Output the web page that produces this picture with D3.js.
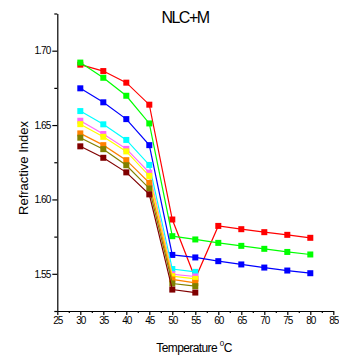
<!DOCTYPE html>
<html>
<head>
<meta charset="utf-8">
<script src="https://cdn.jsdelivr.net/npm/d3@7"></script>
<style>
  body { margin: 0; background: #fff; }
  text { font-family: "Liberation Sans", Arial, sans-serif; fill: #000; }
  .tick text { font-size: 10px; letter-spacing: -0.9px; }
</style>
</head>
<body>
<div id="chart"></div>
<script>
var temps = [30, 35, 40, 45, 50, 55, 60, 65, 70, 75, 80];

// refractive index per sample
var red     = [1.6906, 1.6863, 1.6785, 1.6637, 1.5865, 1.5468, 1.5822, 1.5800, 1.5780, 1.5762, 1.5742];
var green   = [1.6920, 1.6818, 1.6697, 1.6511, 1.5753, 1.5731, 1.5708, 1.5688, 1.5668, 1.5647, 1.5630];
var blue    = [1.6747, 1.6653, 1.6540, 1.6365, 1.5627, 1.5610, 1.5585, 1.5563, 1.5542, 1.5522, 1.5504];
var cyan    = [1.6594, 1.6505, 1.6400, 1.6232, 1.5532, 1.5513];
var magenta = [1.6529, 1.6440, 1.6340, 1.6180, 1.5497, 1.5482];
var yellow  = [1.6506, 1.6421, 1.6323, 1.6158, 1.5484, 1.5466];
var orange  = [1.6444, 1.6365, 1.6264, 1.6112, 1.5462, 1.5439];
var olive   = [1.6415, 1.6338, 1.6230, 1.6074, 1.5435, 1.5417];
var wine    = [1.6357, 1.6280, 1.6182, 1.6034, 1.5394, 1.5374];

var seriesValues = [red, green, blue, cyan, magenta, yellow, orange, olive, wine];
var seriesColors = ["#ff0000", "#00ff00", "#0000ff", "#00ffff", "#ff66ff", "#ffff00", "#ff8000", "#808000", "#800000"];

var xTicks = d3.range(25, 86, 5);
var yTicks = [1.55, 1.60, 1.65, 1.70];

var width = 339, height = 356;

var svg = d3.select("#chart").append("svg")
    .attr("width", width)
    .attr("height", height);

var x = d3.scaleLinear().domain([25, 85]).range([57.3, 333.3]);
var y = d3.scaleLinear().domain([1.525, 1.725]).range([311, 13.5]);

// minor ticks first
svg.append("g")
    .attr("transform", "translate(0,311)")
    .call(d3.axisBottom(x).tickValues(d3.range(27.5, 85, 5)).tickSize(2).tickFormat(""))
    .call(g => g.select(".domain").remove());

svg.append("g")
    .attr("transform", "translate(57.3,0)")
    .call(d3.axisLeft(y).tickValues([1.525, 1.575, 1.625, 1.675, 1.725]).tickSize(3).tickFormat(""))
    .call(g => g.select(".domain").remove());

var xAxis = svg.append("g")
    .attr("transform", "translate(0,311)")
    .call(d3.axisBottom(x).tickValues(xTicks).tickSize(4).tickPadding(2).tickSizeOuter(0).tickFormat(d3.format("d")));

var yAxis = svg.append("g")
    .attr("transform", "translate(57.3,0)")
    .call(d3.axisLeft(y).tickValues(yTicks).tickSize(5).tickPadding(2).tickSizeOuter(0).tickFormat(d3.format(".2f")));

svg.selectAll(".domain, .tick line").attr("stroke", "#000").attr("stroke-width", 1.2);

var line = d3.line()
    .x(function(d, i) { return x(temps[i]); })
    .y(function(d) { return y(d); });

var series = svg.append("g")
  .selectAll("g")
  .data(seriesValues)
  .enter()
  .append("g");

series.append("path")
    .attr("d", line)
    .attr("fill", "none")
    .attr("stroke", function(d, i) { return seriesColors[i]; })
    .attr("stroke-width", 1.2);

series.selectAll("rect")
    .data(function(d, i) { return d.map(function(v, j) { return [temps[j], v, i]; }); })
    .enter()
    .append("rect")
    .attr("x", function(d) { return x(d[0]) - 3; })
    .attr("y", function(d) { return y(d[1]) - 3; })
    .attr("width", 6)
    .attr("height", 6)
    .attr("fill", function(d) { return seriesColors[d[2]]; });

// labels
svg.append("text")
    .attr("x", 185)
    .attr("y", 23)
    .attr("text-anchor", "middle")
    .style("font-size", "16px")
    .style("letter-spacing", "-1.5px")
    .text("NLC+M");

svg.append("text")
    .attr("transform", "translate(28,168)rotate(-90)")
    .attr("text-anchor", "middle")
    .style("font-size", "13px")
    .text("Refractive Index");

var xl = svg.append("text")
    .attr("x", 194)
    .attr("y", 352)
    .attr("text-anchor", "middle")
    .style("font-size", "12px")
    .style("letter-spacing", "-0.6px");
xl.append("tspan").text("Temperature ");
xl.append("tspan").attr("dy", -6).style("font-size", "8px").text("0");
xl.append("tspan").attr("dy", 6).text("C");
</script>
</body>
</html>
